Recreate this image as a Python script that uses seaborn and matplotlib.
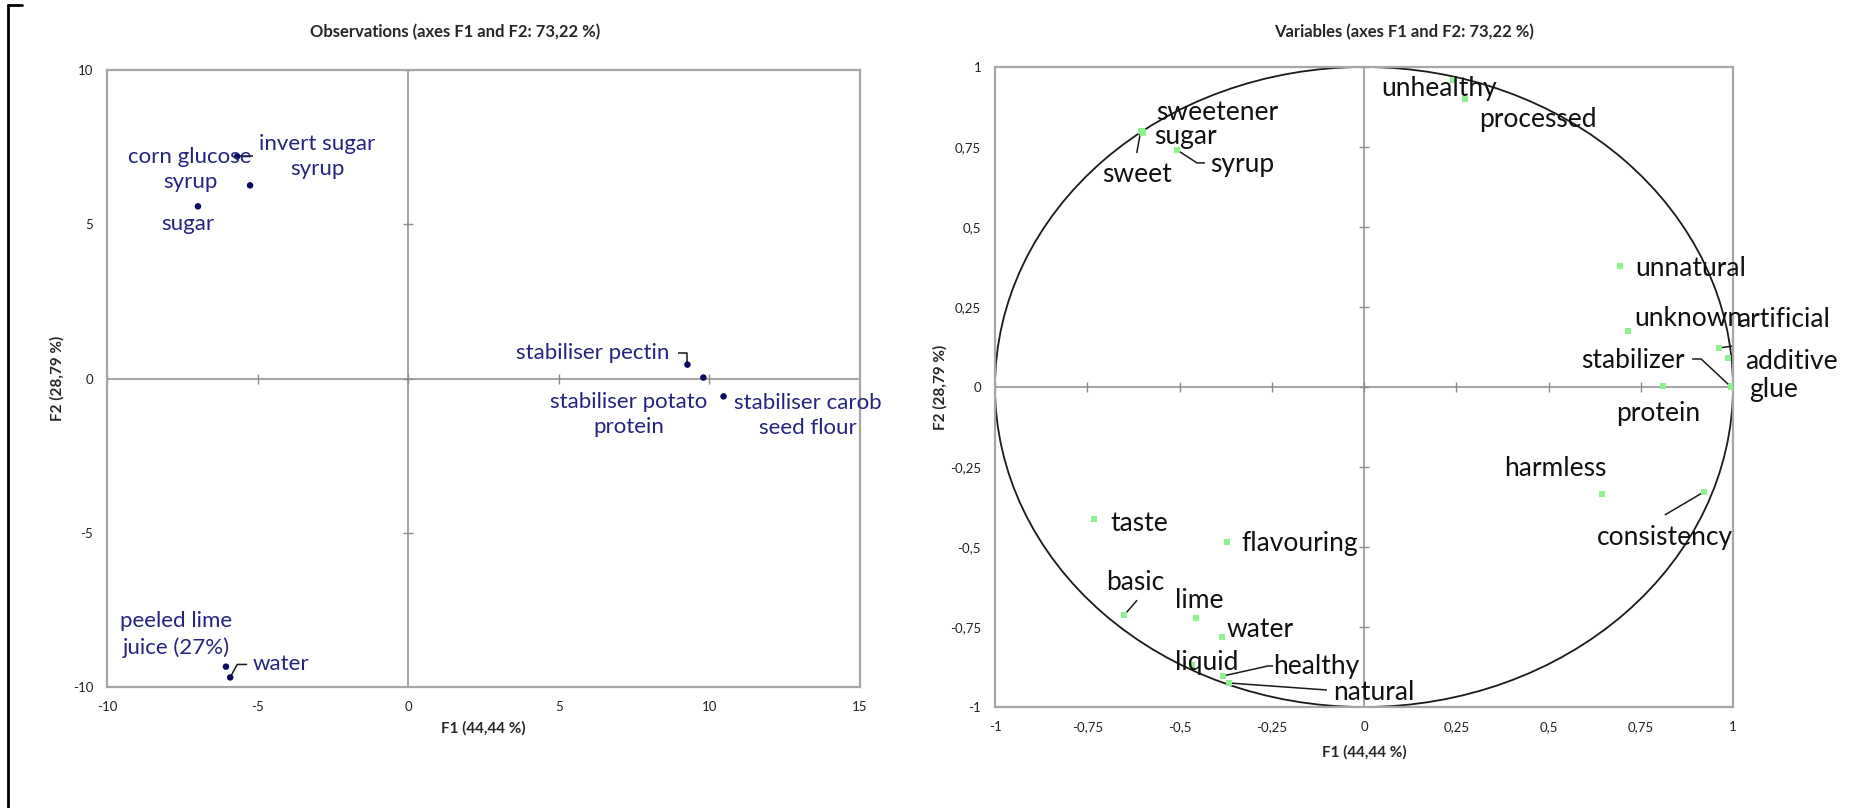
import matplotlib
matplotlib.use("Agg")
import matplotlib.pyplot as plt
import seaborn as sns
import numpy as np
import pandas as pd
from matplotlib.patches import Circle
from matplotlib.lines import Line2D

# ---------------- data ----------------
obs_labels = ["invert sugar\nsyrup", "corn glucose\nsyrup", "sugar", "stabiliser pectin",
              "stabiliser potato\nprotein", "stabiliser carob\nseed flour",
              "peeled lime\njuice (27%)", "water"]
obs_f1 = [-5.68, -5.25, -6.98, 9.27, 9.80, 10.47, -6.05, -5.91]
obs_f2 = [7.20, 6.26, 5.58, 0.45, 0.03, -0.58, -9.34, -9.69]

var_labels = ["sweetener", "sugar", "sweet", "syrup", "unhealthy", "processed", "unnatural",
              "unknown", "artificial", "additive", "glue", "stabilizer", "protein", "harmless",
              "consistency", "taste", "flavouring", "basic", "lime", "water", "liquid",
              "healthy", "natural"]
var_f1 = [-0.602, -0.598, -0.605, -0.507, 0.241, 0.274, 0.694, 0.715, 0.962, 0.986, 0.997,
          0.995, 0.810, 0.645, 0.921, -0.732, -0.371, -0.650, -0.455, -0.385, -0.466,
          -0.382, -0.366]
var_f2 = [0.800, 0.795, 0.800, 0.741, 0.959, 0.900, 0.378, 0.175, 0.122, 0.091, 0.003,
          0.000, 0.003, -0.334, -0.328, -0.413, -0.484, -0.713, -0.722, -0.781, -0.869,
          -0.903, -0.925]

obs_xticks = [-10, -5, 0, 5, 10, 15]
obs_yticks = [-10, -5, 0, 5, 10]
var_ticks = [-1, -0.75, -0.5, -0.25, 0, 0.25, 0.5, 0.75, 1]
var_ticklabels = ["-1", "-0,75", "-0,5", "-0,25", "0", "0,25", "0,5", "0,75", "1"]

title_obs = "Observations (axes F1 and F2: 73,22 %)"
title_var = "Variables (axes F1 and F2: 73,22 %)"
xlabel = "F1 (44,44 %)"
ylabel = "F2 (28,79 %)"

# ---------------- label layout (pixel offsets, y downward) ----------------
obs_lab_off = [(80, 0, "center"), (-60, -16, "center"), (-10, 18, "center"), (-95, -12, "center"),
               (-75, 37, "center"), (84, 19, "center"), (-50, -32, "center"), (22, -13, "left")]
obs_leaders = {0: [(0, 0), (16, 0)], 3: [(0, 0), (0, -12), (-9, -12)],
               7: [(0, 0), (7, -13), (17, -13)]}

var_lab_off = [(14, -19, "left"), (11, 4, "left"), (-4, 44, "center"), (33, 15, "left"),
               (-72, 8, "left"), (14, 20, "left"), (15, 2, "left"), (6, -12, "left"),
               (18, -28, "left"), (17, 4, "left"), (17, 3, "left"), (-47, -26, "right"),
               (-5, 27, "center"), (-47, -25, "center"), (-39, 46, "center"), (16, 4, "left"),
               (14, 2, "left"), (11, -33, "center"), (3, -18, "center"), (5, -7, "left"),
               (15, -3, "center"), (50, -9, "left"), (104, 9, "left")]
var_leaders = {2: [(0, 0), (-4, 22)], 3: [(0, 0), (20, 13), (28, 13)],
               8: [(0, 0), (64, -9)], 11: [(0, 0), (-30, -28), (-39, -28)],
               14: [(0, 0), (-39, 23)], 17: [(0, 0), (13, -15)],
               21: [(0, 0), (45, -10), (50, -10)], 22: [(0, 0), (98, 7)]}

# ---------------- style ----------------
sns.set_theme(style="white")
plt.rcParams["font.family"] = ["Lato", "DejaVu Sans"]

W, H = 1866, 808
fig = plt.figure(figsize=(W / 100, H / 100), dpi=100)
fig.patch.set_facecolor("white")

ax1 = fig.add_axes([107 / W, (H - 687) / H, (860 - 107) / W, (687 - 70) / H])
ax2 = fig.add_axes([995 / W, (H - 707) / H, (1733 - 995) / W, (707 - 67) / H])

spine_col = "#a6a6a6"
zero_col = "#8c8c8c"


def style_axes(ax, xlim, ylim, xticks, yticks, xtl=None, ytl=None):
    ax.set_xlim(*xlim)
    ax.set_ylim(*ylim)
    ax.set_xticks(xticks)
    ax.set_yticks(yticks)
    ax.set_xticklabels(xtl if xtl is not None else [str(t) for t in xticks])
    ax.set_yticklabels(ytl if ytl is not None else [str(t) for t in yticks])
    ax.tick_params(length=0, labelsize=9.5, colors="#222222", pad=10)
    for s in ax.spines.values():
        s.set_color(spine_col)
        s.set_linewidth(1.6)
        s.set_visible(True)
    ax.axhline(0, color=zero_col, lw=1.1, zorder=1)
    ax.axvline(0, color=zero_col, lw=1.1, zorder=1)
    ax.plot(xticks, [0] * len(xticks), ls="none", marker="|", ms=7, mew=1.0,
            color=zero_col, zorder=1)
    ax.plot([0] * len(yticks), yticks, ls="none", marker="_", ms=7, mew=1.0,
            color=zero_col, zorder=1)
    ax.grid(False)


style_axes(ax1, (-10, 15), (-10, 10), obs_xticks, obs_yticks)
style_axes(ax2, (-1, 1), (-1, 1), var_ticks, var_ticks, var_ticklabels, var_ticklabels)

# ---------------- points ----------------
df_obs = pd.DataFrame({"F1": obs_f1, "F2": obs_f2, "label": obs_labels})
df_var = pd.DataFrame({"F1": var_f1, "F2": var_f2, "label": var_labels})

sns.scatterplot(data=df_obs, x="F1", y="F2", ax=ax1, color="#0b0b5e", s=22,
                edgecolor="none", zorder=3, legend=False)
sns.scatterplot(data=df_var, x="F1", y="F2", ax=ax2, color="#8ef08e", marker="s", s=20,
                edgecolor="none", zorder=3, legend=False)

ax2.add_patch(Circle((0, 0), 1, fill=False, color="#1a1a1a", lw=1.3, zorder=2, clip_on=False))

for ax, t, top, bottom, xc in ((ax1, title_obs, 70, 687, 0.462),
                               (ax2, title_var, 67, 707, 0.554)):
    ax.set_title(t, fontsize=12, fontweight="bold", pad=0,
                 y=1 + (top - 32) / (bottom - top), va="center")
    ax.title.set_x(xc)
    ax.set_xlabel(xlabel, fontsize=11, fontweight="bold")
    ax.set_ylabel(ylabel, fontsize=11, fontweight="bold")
    ax.xaxis.label.set_va("center")
    ax.yaxis.label.set_va("center")


def leader(ax, x, y, offs):
    base = ax.transData.transform((x, y))
    pts = np.array([[base[0] + dx, base[1] - dy] for dx, dy in offs])
    data = ax.transData.inverted().transform(pts)
    ax.plot(data[:, 0], data[:, 1], color="#1a1a1a", lw=1.1, zorder=2, solid_capstyle="butt")


for i, (lab, x, y) in enumerate(zip(obs_labels, obs_f1, obs_f2)):
    dx, dy, ha = obs_lab_off[i]
    ax1.annotate(lab, (x, y), xytext=(dx, -dy), textcoords="offset pixels",
                 ha=ha, va="center", fontsize=16, color="#24247f", linespacing=1.35,
                 zorder=4)
    if i in obs_leaders:
        leader(ax1, x, y, obs_leaders[i])

for i, (lab, x, y) in enumerate(zip(var_labels, var_f1, var_f2)):
    dx, dy, ha = var_lab_off[i]
    ax2.annotate(lab, (x, y), xytext=(dx, -dy), textcoords="offset pixels",
                 ha=ha, va="center", fontsize=19, color="#111111", zorder=4,
                 annotation_clip=False)
    if i in var_leaders:
        leader(ax2, x, y, var_leaders[i])

# axis label positions (centres)
ax1.xaxis.set_label_coords(0.5, -(728 - 687) / (687 - 70))
ax1.yaxis.set_label_coords(-(107 - 57) / (860 - 107), 0.5)
ax2.xaxis.set_label_coords(0.5, -(752 - 707) / (707 - 67))
ax2.yaxis.set_label_coords(-(995 - 940) / (1733 - 995), 0.5)

# page frame fragment
fig.add_artist(Line2D([8 / W, 8 / W], [0, 1 - 5 / H], transform=fig.transFigure,
                      color="black", lw=2))
fig.add_artist(Line2D([8 / W, 22 / W], [1 - 5 / H, 1 - 5 / H], transform=fig.transFigure,
                      color="black", lw=2))

fig.savefig("out.png", dpi=100, facecolor="white")
